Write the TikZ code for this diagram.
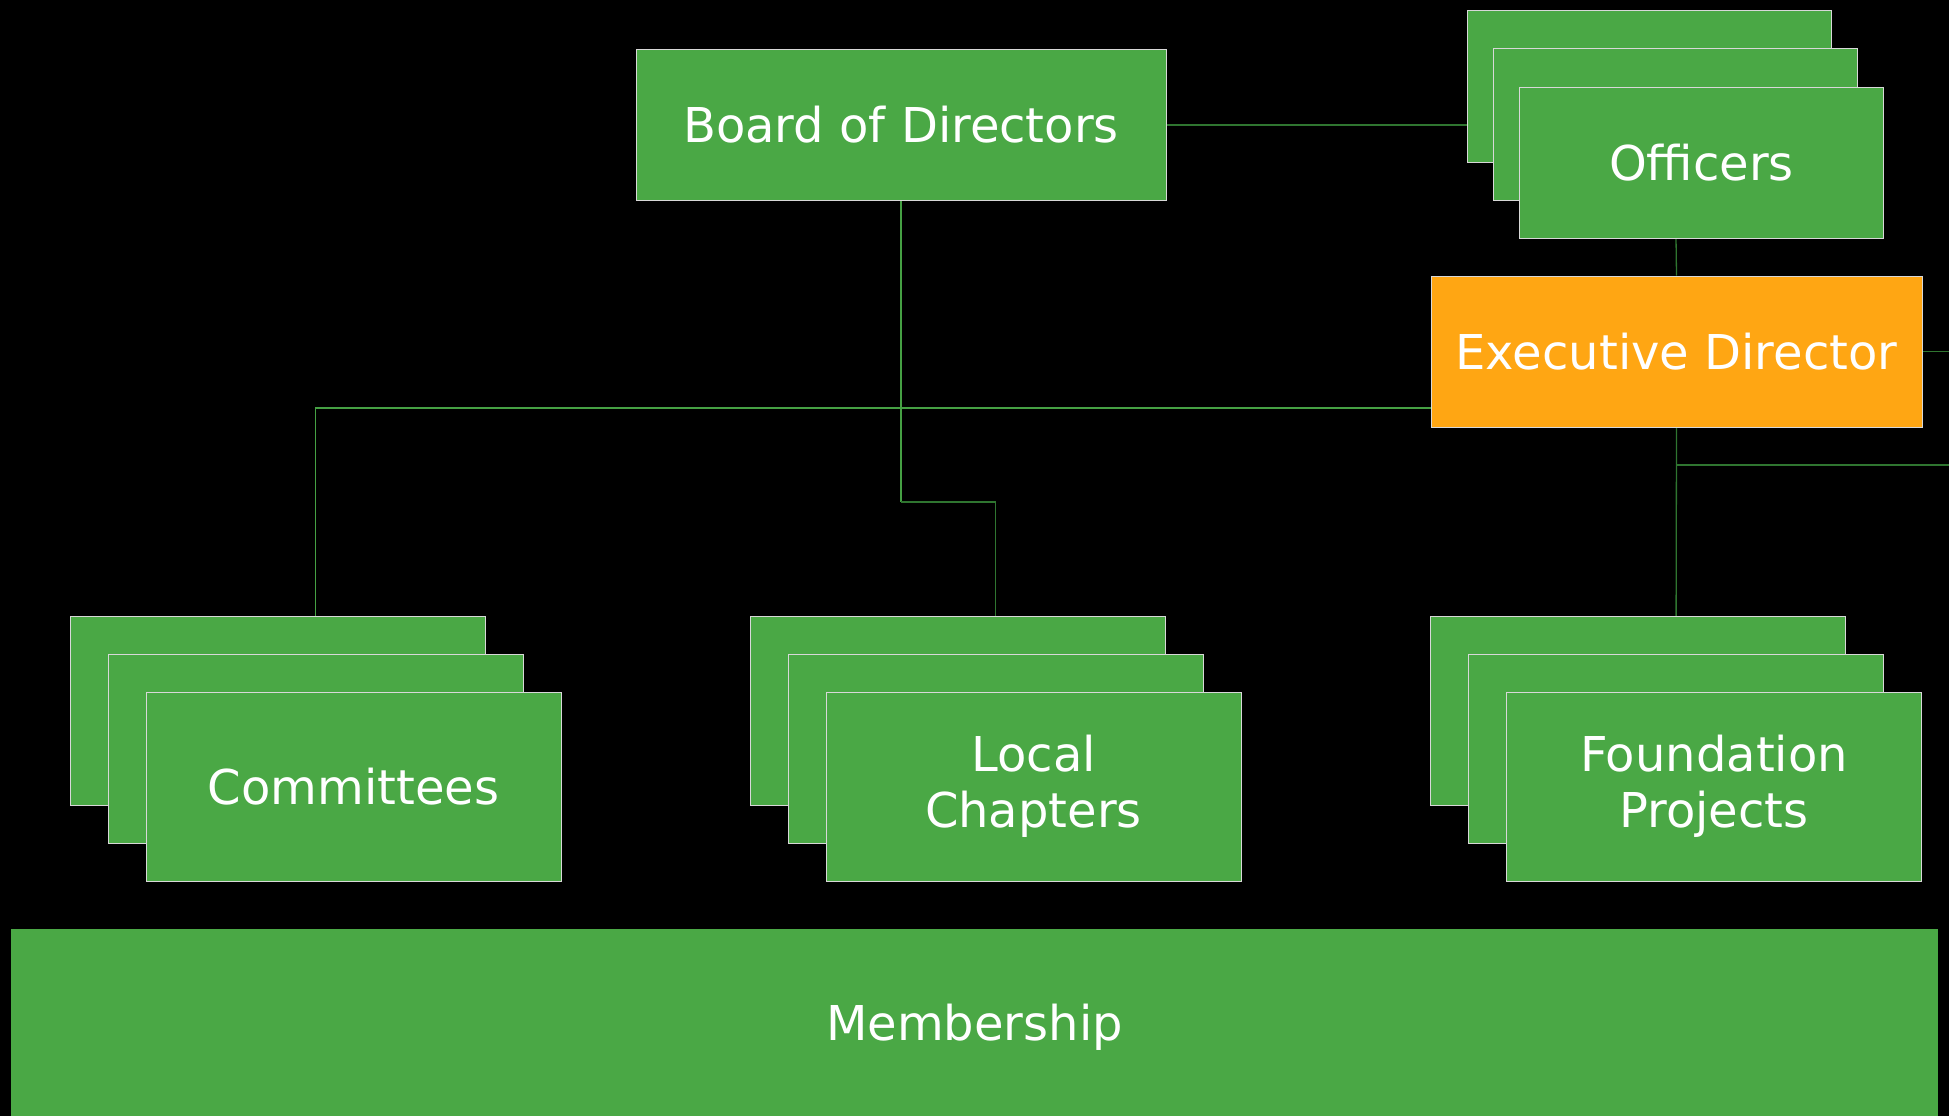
\documentclass[tikz,border=0pt]{standalone}
\usepackage{fontspec}
\setmainfont{DejaVu Sans}
\usetikzlibrary{calc,backgrounds}
\definecolor{boxgreen}{HTML}{4AA845}
\definecolor{edorange}{HTML}{FFA613}
\definecolor{linkdark}{HTML}{2F7530}
\definecolor{linklight}{HTML}{45A043}
\definecolor{rimgray}{HTML}{D8D8D8}
\tikzset{
  orgbox/.style={rectangle, draw=rimgray, line width=1pt, fill=boxgreen, text=white,
    inner sep=0pt, align=center, font=\fontsize{48}{56}\selectfont},
  link/.style={draw=linkdark, line width=1.3pt},
  lightlink/.style={draw=linklight, line width=1.3pt},
}
\def\stacked[#1](#2)(#3,#4)(#5,#6)#7{%
  \node[orgbox,#1] (#2-back) at ($(#3,#4)+(-#5,-#6)$) {};
  \node[orgbox,#1] (#2) at (#3,#4) {};
  \node[orgbox,#1] (#2-front) at ($(#3,#4)+(#5,#6)$) {#7};}

\begin{document}
\begin{tikzpicture}[x=1pt,y=-1pt]
		%%%%% START %%%%%
		\useasboundingbox (0,0) rectangle (1949,1116);
		
		\node[orgbox, minimum width=530pt, minimum height=150pt] (board) at (901,125) {Board of Directors};
		
		\stacked[minimum width=364pt, minimum height=151pt](off)(1675.5,124.5)(26,38){Officers}
		
		\node[orgbox, fill=edorange, minimum width=491pt, minimum height=151pt] (ed) at (1676.5,351.5) {Executive Director};
		
		\stacked[minimum width=415pt, minimum height=189pt](comm)(315.5,748.5)(38,38){Committees}
		\stacked[minimum width=415pt, minimum height=189pt](local)(995.5,748.5)(38,38){Local\\Chapters}
		\stacked[minimum width=415pt, minimum height=189pt](found)(1676,748.5)(38,38){Foundation\\Projects}
		
		\node[orgbox, draw=none, minimum width=1927pt, minimum height=187pt] (members) at (974.5,1022.5) {\raisebox{-5pt}[\height][\depth]{Membership}};
		
		\coordinate (edtap) at (1431,408);
		\coordinate (edout) at (1949,351.5);
		\coordinate (fdtap) at (1676,465);
		\coordinate (fdout) at (1949,465);
		\coordinate (bend) at (901,502);
		
		\begin{scope}[on background layer]
		\fill[black] (0,0) rectangle (1949,1116);
		
		\draw[link] (board.east) -- (board.east -| off-back.west);
		\draw[link] (off.south) -- (ed.north);
		\draw[link] (ed.east) -- (edout);
		\draw[link] (ed.south) -- (found.north);
		\draw[link] (fdtap) -- (fdout);
		
		\draw[lightlink] (edtap) -| (comm.north);
		\draw[lightlink] (board.south) -- (bend);
		\draw[link] (bend) -| (local.north);
		\end{scope}
		
		%%%%% END %%%%%
	\end{tikzpicture}
\end{document}
